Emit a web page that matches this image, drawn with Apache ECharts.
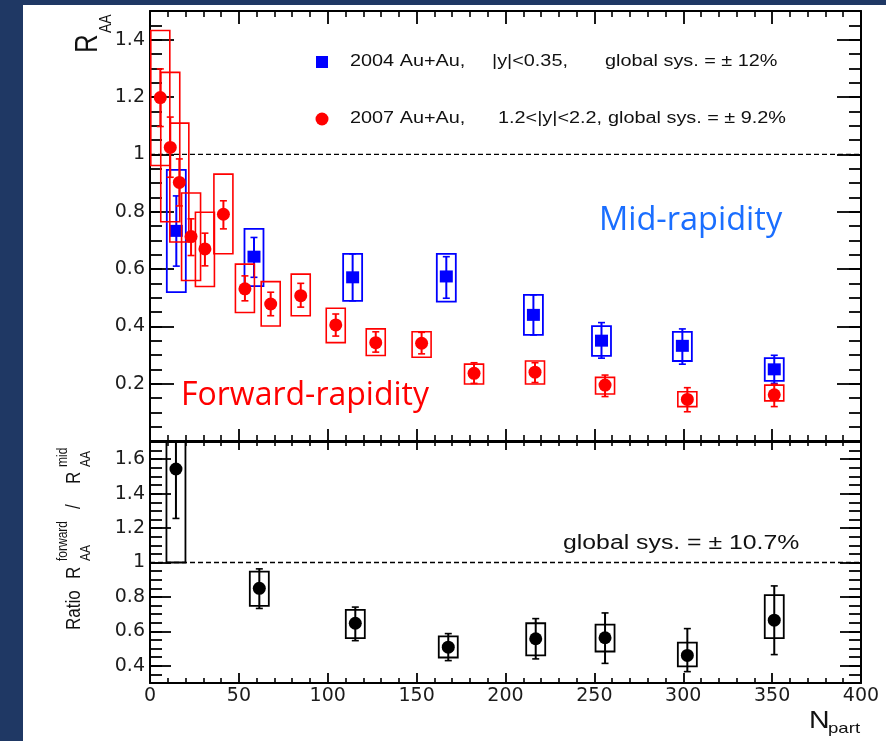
<!DOCTYPE html>
<html>
<head>
<meta charset="utf-8">
<script src="https://cdn.jsdelivr.net/npm/echarts@6/dist/echarts.min.js"></script>
<style>
  html, body { margin:0; padding:0; background:#1F3864; width:886px; height:741px; overflow:hidden; }
  #paper { position:absolute; left:23px; top:5px; width:863px; height:736px; background:#ffffff; }
  #chart { position:absolute; left:0; top:0; width:886px; height:741px; }
</style>
</head>
<body>
<div id="paper"></div>
<div id="chart"></div>
<script>
// ---------------- data ----------------
// Mid-rapidity, 2004 Au+Au |y|<0.35
const midX       = [14.8, 58.5, 114, 166.7, 215.7, 254, 299.5, 351.2];
const midY       = [0.733, 0.643, 0.571, 0.574, 0.44, 0.35, 0.332, 0.25];
const midStatLo  = [0.61, 0.571, 0.489, 0.498, 0.37, 0.289, 0.268, 0.201];
const midStatHi  = [0.855, 0.71, 0.653, 0.643, 0.51, 0.413, 0.391, 0.299];
const midSysLo   = [0.519, 0.54, 0.489, 0.486, 0.37, 0.297, 0.279, 0.21];
const midSysHi   = [0.946, 0.74, 0.653, 0.653, 0.51, 0.401, 0.381, 0.289];

// Forward-rapidity, 2007 Au+Au 1.2<|y|<2.2
const fwdX       = [5.8, 11.4, 16.5, 23.1, 30.9, 41.3, 53.4, 67.9, 84.8, 104.5, 127, 152.8, 182.3, 216.6, 256, 302.3, 351.2];
const fwdY       = [1.198, 1.024, 0.902, 0.713, 0.67, 0.791, 0.531, 0.478, 0.507, 0.405, 0.343, 0.341, 0.236, 0.24, 0.195, 0.145, 0.161];
const fwdStatLo  = [1.097, 0.92, 0.82, 0.647, 0.611, 0.74, 0.489, 0.437, 0.467, 0.366, 0.31, 0.304, 0.201, 0.204, 0.155, 0.102, 0.12];
const fwdStatHi  = [1.298, 1.13, 0.984, 0.775, 0.725, 0.838, 0.576, 0.519, 0.55, 0.443, 0.381, 0.379, 0.273, 0.273, 0.23, 0.186, 0.198];
const fwdSysLo   = [0.961, 0.765, 0.694, 0.56, 0.539, 0.653, 0.448, 0.401, 0.437, 0.343, 0.298, 0.292, 0.199, 0.199, 0.164, 0.12, 0.14];
const fwdSysHi   = [1.432, 1.286, 1.109, 0.865, 0.798, 0.931, 0.617, 0.556, 0.582, 0.463, 0.391, 0.381, 0.268, 0.279, 0.222, 0.172, 0.195];

// Ratio forward / mid
const ratioX      = [14.6, 61.5, 115.5, 167.8, 217, 256, 302.3, 351.2];
const ratioY      = [1.543, 0.85, 0.647, 0.508, 0.557, 0.563, 0.46, 0.665];
const ratioStatLo = [1.256, 0.733, 0.546, 0.43, 0.44, 0.414, 0.366, 0.465];
const ratioStatHi = [1.83, 0.963, 0.741, 0.587, 0.674, 0.707, 0.616, 0.864];
const ratioSysLo  = [1.0, 0.748, 0.561, 0.448, 0.46, 0.483, 0.397, 0.561];
const ratioSysHi  = [2.1, 0.947, 0.725, 0.571, 0.647, 0.639, 0.534, 0.811];

// reference lines at unity
const unityTop = [[0, 1], [400, 1]];
const unityBot = [[0, 1], [400, 1]];

// tick values / labels
const xTickLabels   = [0, 50, 100, 150, 200, 250, 300, 350, 400];
const topYLabels    = [0.2, 0.4, 0.6, 0.8, 1, 1.2, 1.4];
const botYLabels    = [0.4, 0.6, 0.8, 1, 1.2, 1.4, 1.6];
const topYMinor = []; for (let i = 1; i <= 29; i++) topYMinor.push(Math.round(i * 5) / 100);
const botYMinor = []; for (let i = 7; i <= 33; i++) botYMinor.push(Math.round(i * 5) / 100);

// ---------------- helpers ----------------
function rows(xs, ys, a, b, c, d) { return xs.map((x, i) => [x, ys[i], a[i], b[i], c[i], d[i]]); }

function errRender(color, marker, boxLW) {
  return function (params, api) {
    const x = api.value(0);
    const c  = api.coord([x, api.value(1)]);
    const sl = api.coord([x, api.value(2)]);
    const sh = api.coord([x, api.value(3)]);
    const bl = api.coord([x, api.value(4)]);
    const bh = api.coord([x, api.value(5)]);
    const hw = 9.5, cap = 3.5;
    const kids = [
      { type: 'rect', shape: { x: c[0] - hw, y: bh[1], width: 2 * hw, height: bl[1] - bh[1] },
        style: { fill: 'none', stroke: color, lineWidth: boxLW } },
      { type: 'line', shape: { x1: c[0], y1: sl[1], x2: c[0], y2: sh[1] }, style: { stroke: color, lineWidth: 2 } },
      { type: 'line', shape: { x1: c[0] - cap, y1: sl[1], x2: c[0] + cap, y2: sl[1] }, style: { stroke: color, lineWidth: 1.6 } },
      { type: 'line', shape: { x1: c[0] - cap, y1: sh[1], x2: c[0] + cap, y2: sh[1] }, style: { stroke: color, lineWidth: 1.6 } },
      marker === 'square'
        ? { type: 'rect', shape: { x: c[0] - 6.5, y: c[1] - 6, width: 13, height: 12 }, style: { fill: color } }
        : { type: 'circle', shape: { cx: c[0], cy: c[1], r: 6.5 }, style: { fill: color } }
    ];
    return { type: 'group', children: kids };
  };
}

const AX = '#000';
const LBL = { fontFamily: 'DejaVu Sans', fontSize: 19, color: '#1c1c1c' };

function xAx(gi, pos, len, mlen, showLabel) {
  return {
    type: 'value', gridIndex: gi, position: pos, min: 0, max: 400, interval: 50,
    axisLine: { show: true, onZero: false, lineStyle: { color: AX, width: 2 } },
    axisTick: { show: true, inside: true, length: len, lineStyle: { color: AX, width: 1.8 } },
    minorTick: { show: true, splitNumber: 5, length: mlen, lineStyle: { color: AX, width: 1.6 } },
    axisLabel: showLabel ? Object.assign({ show: true, margin: 4, customValues: xTickLabels }, LBL) : { show: false },
    splitLine: { show: false }, minorSplitLine: { show: false }
  };
}
function yAx(gi, pos, min, max, vals, len, showLine, labels) {
  return {
    type: 'value', gridIndex: gi, position: pos, min: min, max: max,
    axisLine: { show: showLine, onZero: false, lineStyle: { color: AX, width: 2 } },
    axisTick: { show: true, inside: true, length: len, customValues: vals, lineStyle: { color: AX, width: 1.8 } },
    axisLabel: labels ? Object.assign({ show: true, margin: 5, customValues: labels,
      formatter: v => String(Math.round(v * 100) / 100) }, LBL) : { show: false },
    splitLine: { show: false }, minorTick: { show: false }, minorSplitLine: { show: false }
  };
}

function txt(x, y, text, font, fill, opts) {
  const o = Object.assign({ type: 'text', x: x, y: y, z: 50, silent: true,
    style: { text: text, font: font, fill: fill, textAlign: 'left', textVerticalAlign: 'middle' } }, opts || {});
  return o;
}
const SX = 1.24; // horizontal stretch of the ROOT figure
const HEL = '"Liberation Sans", Arial, sans-serif';
const ROT = Math.PI / 2;

const chart = echarts.init(document.getElementById('chart'), null, { renderer: 'canvas' });
chart.setOption({
  backgroundColor: 'transparent',
  animation: false,
  grid: [
    { left: 150, top: 11, width: 711, height: 430 },
    { left: 150, top: 442, width: 711, height: 241 }
  ],
  xAxis: [
    xAx(0, 'bottom', 12, 6, false),
    xAx(0, 'top', 13, 6, false),
    xAx(1, 'top', 8, 4, false),
    xAx(1, 'bottom', 10, 5, true)
  ],
  yAxis: [
    yAx(0, 'left', 0, 1.5, topYLabels, 24, true, topYLabels),
    yAx(0, 'left', 0, 1.5, topYMinor, 12, false, null),
    yAx(0, 'right', 0, 1.5, topYLabels, 24, true, null),
    yAx(0, 'right', 0, 1.5, topYMinor, 12, false, null),
    yAx(1, 'left', 0.3, 1.7, botYLabels, 21, true, botYLabels),
    yAx(1, 'left', 0.3, 1.7, botYMinor, 12, false, null),
    yAx(1, 'right', 0.3, 1.7, botYLabels, 21, true, null),
    yAx(1, 'right', 0.3, 1.7, botYMinor, 12, false, null)
  ],
  series: [
    { type: 'line', xAxisIndex: 0, yAxisIndex: 0, data: unityTop, symbol: 'none', silent: true, z: 1,
      lineStyle: { color: '#000', width: 1.3, type: [5, 3] } },
    { type: 'line', xAxisIndex: 3, yAxisIndex: 4, data: unityBot, symbol: 'none', silent: true, z: 1,
      lineStyle: { color: '#000', width: 1.3, type: [5, 3] } },
    { type: 'custom', name: 'mid', xAxisIndex: 0, yAxisIndex: 0, clip: true, z: 3,
      data: rows(midX, midY, midStatLo, midStatHi, midSysLo, midSysHi),
      renderItem: errRender('#0000ff', 'square', 1.8) },
    { type: 'custom', name: 'fwd', xAxisIndex: 0, yAxisIndex: 0, clip: true, z: 4,
      data: rows(fwdX, fwdY, fwdStatLo, fwdStatHi, fwdSysLo, fwdSysHi),
      renderItem: errRender('#ff0000', 'circle', 1.6) },
    { type: 'custom', name: 'ratio', xAxisIndex: 3, yAxisIndex: 4, clip: true, z: 4,
      data: rows(ratioX, ratioY, ratioStatLo, ratioStatHi, ratioSysLo, ratioSysHi),
      renderItem: errRender('#000000', 'circle', 1.8) }
  ],
  graphic: { elements: [
    // legend
    { type: 'rect', shape: { x: 316, y: 56, width: 12, height: 12 }, style: { fill: '#0000ff' }, z: 50 },
    { type: 'circle', shape: { cx: 322, cy: 119, r: 6.5 }, style: { fill: '#ff0000' }, z: 50 },
    txt(350, 62, '2004 Au+Au,', '16px ' + HEL, '#111', { scaleX: SX }),
    txt(492, 62, '|y|<0.35,', '16px ' + HEL, '#111', { scaleX: SX }),
    txt(605, 62, 'global sys. = \u00b1 12%', '16px ' + HEL, '#111', { scaleX: SX }),
    txt(350, 119, '2007 Au+Au,', '16px ' + HEL, '#111', { scaleX: SX }),
    txt(498, 119, '1.2<|y|<2.2,', '16px ' + HEL, '#111', { scaleX: SX }),
    txt(608, 119, 'global sys. = \u00b1 9.2%', '16px ' + HEL, '#111', { scaleX: SX }),
    // ratio panel note
    txt(563, 543, 'global sys. = \u00b1 10.7%', '20px ' + HEL, '#111', { scaleX: SX }),
    // annotations
    txt(599, 221, 'Mid-rapidity', '32.5px "Open Sans", sans-serif', '#1a6eff'),
    txt(181, 396, 'Forward-rapidity', '32px "Open Sans", sans-serif', '#ff0000'),
    // x title
    txt(809, 721.5, 'N', '23px ' + HEL, '#111', { scaleX: SX }),
    txt(828, 728.5, 'part', '15px ' + HEL, '#111', { scaleX: SX }),
    // top y title  R_AA
    txt(88.5, 53, 'R', '26px ' + HEL, '#111', { rotation: ROT, scaleY: SX }),
    txt(106, 33, 'AA', '14px ' + HEL, '#111', { rotation: ROT, scaleY: SX }),
    // bottom y title  Ratio R^forward_AA / R^mid_AA
    txt(74, 630, 'Ratio', '17px ' + HEL, '#111', { rotation: ROT, scaleY: SX }),
    txt(74, 579, 'R', '17px ' + HEL, '#111', { rotation: ROT, scaleY: SX }),
    txt(63, 561, 'forward', '12px ' + HEL, '#111', { rotation: ROT, scaleY: SX }),
    txt(86, 561, 'AA', '12px ' + HEL, '#111', { rotation: ROT, scaleY: SX }),
    txt(74, 509, '/', '17px ' + HEL, '#111', { rotation: ROT, scaleY: SX }),
    txt(74, 484, 'R', '17px ' + HEL, '#111', { rotation: ROT, scaleY: SX }),
    txt(63, 467, 'mid', '12px ' + HEL, '#111', { rotation: ROT, scaleY: SX }),
    txt(86, 467, 'AA', '12px ' + HEL, '#111', { rotation: ROT, scaleY: SX })
  ] }
});
</script>
</body>
</html>
